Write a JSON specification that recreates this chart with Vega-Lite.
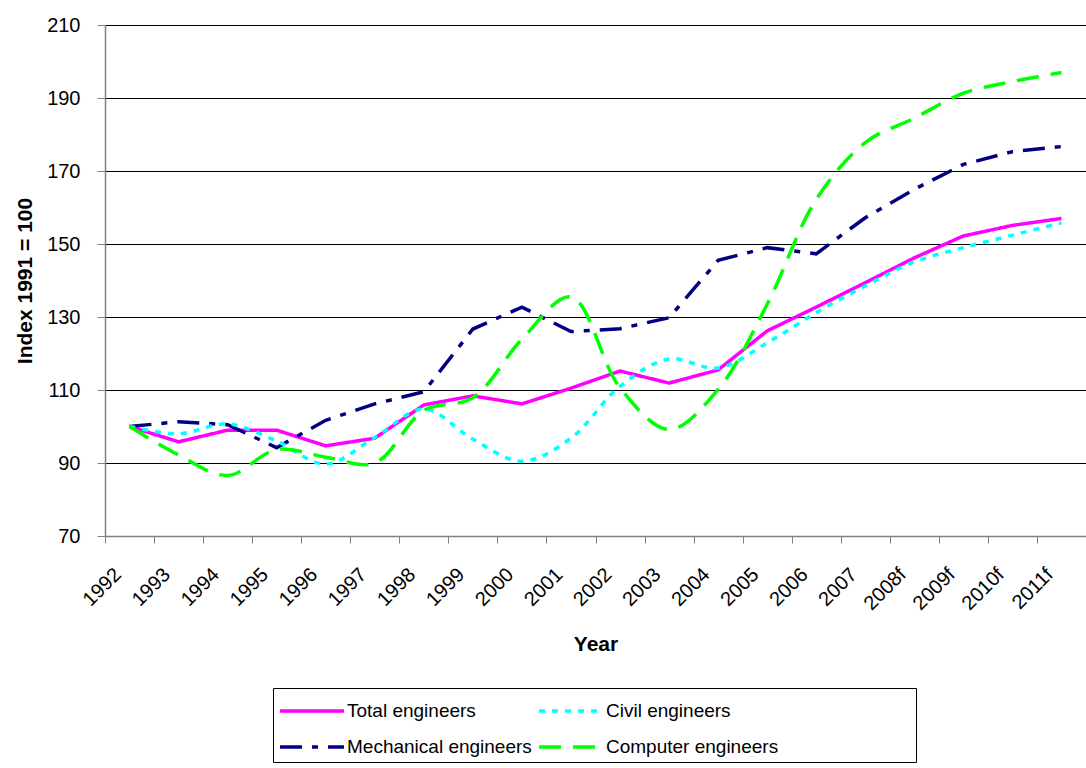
{
  "$schema": "https://vega.github.io/schema/vega-lite/v6.json",
  "width": 981,
  "height": 511,
  "autosize": {"type": "none"},
  "padding": {"left": 105, "top": 25, "right": 0, "bottom": 232},
  "background": "white",
  "config": {
    "view": {"stroke": null},
    "font": "Liberation Sans",
    "axis": {"labelFont": "Liberation Sans", "titleFont": "Liberation Sans", "labelColor": "black", "titleColor": "black"}
  },
  "data": {
    "values": [
      {"year": "1992", "series": "Total engineers", "value": 100},
      {"year": "1993", "series": "Total engineers", "value": 95.8},
      {"year": "1994", "series": "Total engineers", "value": 99.0},
      {"year": "1995", "series": "Total engineers", "value": 99.0},
      {"year": "1996", "series": "Total engineers", "value": 94.7},
      {"year": "1997", "series": "Total engineers", "value": 96.8},
      {"year": "1998", "series": "Total engineers", "value": 105.9},
      {"year": "1999", "series": "Total engineers", "value": 108.4},
      {"year": "2000", "series": "Total engineers", "value": 106.2},
      {"year": "2001", "series": "Total engineers", "value": 110.5},
      {"year": "2002", "series": "Total engineers", "value": 115.2},
      {"year": "2003", "series": "Total engineers", "value": 111.9},
      {"year": "2004", "series": "Total engineers", "value": 115.5},
      {"year": "2005", "series": "Total engineers", "value": 126.2},
      {"year": "2006", "series": "Total engineers", "value": 132.7},
      {"year": "2007", "series": "Total engineers", "value": 139.4},
      {"year": "2008f", "series": "Total engineers", "value": 146.2},
      {"year": "2009f", "series": "Total engineers", "value": 152.2},
      {"year": "2010f", "series": "Total engineers", "value": 155.1},
      {"year": "2011f", "series": "Total engineers", "value": 157.0},

      {"year": "1992", "series": "Civil engineers", "value": 100},
      {"year": "1993", "series": "Civil engineers", "value": 98.0},
      {"year": "1994", "series": "Civil engineers", "value": 100.7},
      {"year": "1995", "series": "Civil engineers", "value": 96.0},
      {"year": "1996", "series": "Civil engineers", "value": 89.7},
      {"year": "1997", "series": "Civil engineers", "value": 97.0},
      {"year": "1998", "series": "Civil engineers", "value": 104.8},
      {"year": "1999", "series": "Civil engineers", "value": 96.5},
      {"year": "2000", "series": "Civil engineers", "value": 90.5},
      {"year": "2001", "series": "Civil engineers", "value": 96.8},
      {"year": "2002", "series": "Civil engineers", "value": 111.0},
      {"year": "2003", "series": "Civil engineers", "value": 118.5},
      {"year": "2004", "series": "Civil engineers", "value": 116.0},
      {"year": "2005", "series": "Civil engineers", "value": 122.9},
      {"year": "2006", "series": "Civil engineers", "value": 131.2},
      {"year": "2007", "series": "Civil engineers", "value": 138.5},
      {"year": "2008f", "series": "Civil engineers", "value": 145.1},
      {"year": "2009f", "series": "Civil engineers", "value": 149.0},
      {"year": "2010f", "series": "Civil engineers", "value": 152.4},
      {"year": "2011f", "series": "Civil engineers", "value": 155.8},

      {"year": "1992", "series": "Mechanical engineers", "value": 100},
      {"year": "1993", "series": "Mechanical engineers", "value": 101.3},
      {"year": "1994", "series": "Mechanical engineers", "value": 100.5},
      {"year": "1995", "series": "Mechanical engineers", "value": 94.2},
      {"year": "1996", "series": "Mechanical engineers", "value": 101.7},
      {"year": "1997", "series": "Mechanical engineers", "value": 106.2},
      {"year": "1998", "series": "Mechanical engineers", "value": 109.5},
      {"year": "1999", "series": "Mechanical engineers", "value": 126.7},
      {"year": "2000", "series": "Mechanical engineers", "value": 132.7},
      {"year": "2001", "series": "Mechanical engineers", "value": 126.0},
      {"year": "2002", "series": "Mechanical engineers", "value": 126.8},
      {"year": "2003", "series": "Mechanical engineers", "value": 129.8},
      {"year": "2004", "series": "Mechanical engineers", "value": 145.5},
      {"year": "2005", "series": "Mechanical engineers", "value": 149.0},
      {"year": "2006", "series": "Mechanical engineers", "value": 147.3},
      {"year": "2007", "series": "Mechanical engineers", "value": 157.2},
      {"year": "2008f", "series": "Mechanical engineers", "value": 165.0},
      {"year": "2009f", "series": "Mechanical engineers", "value": 171.8},
      {"year": "2010f", "series": "Mechanical engineers", "value": 175.3},
      {"year": "2011f", "series": "Mechanical engineers", "value": 176.7},

      {"year": "1992", "series": "Computer engineers", "value": 100},
      {"year": "1993", "series": "Computer engineers", "value": 92.2},
      {"year": "1994", "series": "Computer engineers", "value": 86.6},
      {"year": "1995", "series": "Computer engineers", "value": 93.7},
      {"year": "1996", "series": "Computer engineers", "value": 91.6},
      {"year": "1997", "series": "Computer engineers", "value": 90.0},
      {"year": "1998", "series": "Computer engineers", "value": 104.4},
      {"year": "1999", "series": "Computer engineers", "value": 107.9},
      {"year": "2000", "series": "Computer engineers", "value": 123.9},
      {"year": "2001", "series": "Computer engineers", "value": 135.5},
      {"year": "2002", "series": "Computer engineers", "value": 110.6},
      {"year": "2003", "series": "Computer engineers", "value": 99.2},
      {"year": "2004", "series": "Computer engineers", "value": 110.2},
      {"year": "2005", "series": "Computer engineers", "value": 133.5},
      {"year": "2006", "series": "Computer engineers", "value": 162.2},
      {"year": "2007", "series": "Computer engineers", "value": 177.8},
      {"year": "2008f", "series": "Computer engineers", "value": 184.5},
      {"year": "2009f", "series": "Computer engineers", "value": 191.3},
      {"year": "2010f", "series": "Computer engineers", "value": 194.5},
      {"year": "2011f", "series": "Computer engineers", "value": 197.0}
    ]
  },
  "encoding": {
    "x": {
      "field": "year", "type": "ordinal", "sort": null,
      "scale": {"type": "band", "paddingInner": 0, "paddingOuter": 0},
      "axis": {
        "title": "Year", "titleFontSize": 21, "titleFontWeight": "bold", "titlePadding": 20,
        "labelAngle": -45, "labelFontSize": 20, "labelPadding": 21, "labelOffset": -19,
        "tickBand": "extent", "grid": false,
        "domainColor": "#808080", "tickColor": "#808080", "tickSize": 7, "domainWidth": 1.5
      }
    },
    "y": {
      "field": "value", "type": "quantitative",
      "scale": {"domain": [70, 210], "nice": false, "zero": false},
      "axis": {
        "title": "Index 1991 = 100", "titleFontSize": 21, "titleFontWeight": "bold", "titlePadding": 11,
        "values": [70, 90, 110, 130, 150, 170, 190, 210],
        "labelFontSize": 20, "labelPadding": 17,
        "grid": true, "gridColor": "black", "gridWidth": 1, "gridOpacity": 1,
        "domainColor": "#808080", "tickColor": "#808080", "tickSize": 8, "domainWidth": 1.5
      }
    },
    "color": {
      "field": "series", "type": "nominal",
      "scale": {
        "domain": ["Total engineers", "Civil engineers", "Mechanical engineers", "Computer engineers"],
        "range": ["#FF00FF", "#00FFFF", "#000080", "#00FF00"]
      },
      "legend": {
        "title": null, "orient": "none", "legendX": 168, "legendY": 663,
        "direction": "horizontal", "columns": 2, "columnPadding": 0, "rowPadding": 8,
        "padding": 5, "strokeColor": "black", "fillColor": "white",
        "symbolType": "M-1,0H3", "symbolSize": 1024, "symbolStrokeWidth": 3.5,
        "labelFontSize": 19, "labelFont": "Liberation Sans", "labelColor": "black", "labelOffset": 33,
        "labelLimit": 600,
        "labelExpr": "datum.label == 'Computer engineers' ? datum.label + '\u00a0\u00a0\u00a0\u00a0\u00a0\u00a0\u00a0\u00a0\u00a0\u00a0\u00a0\u00a0\u00a0\u00a0\u00a0\u00a0\u00a0\u00a0\u00a0\u00a0\u00a0\u00a0\u00a0\u00a0\u00a0\u200b' : datum.label"
      }
    },
    "strokeDash": {
      "field": "series", "type": "nominal",
      "scale": {
        "domain": ["Total engineers", "Civil engineers", "Mechanical engineers", "Computer engineers"],
        "range": [[1, 0], [6, 7], [22, 10, 6, 10], [22, 12]]
      },
      "legend": null
    }
  },
  "layer": [
    {
      "transform": [{"filter": "datum.series === 'Total engineers' || datum.series === 'Mechanical engineers'"}],
      "mark": {"type": "line", "strokeWidth": 3.5, "interpolate": "linear"}
    },
    {
      "transform": [{"filter": "datum.series === 'Civil engineers' || datum.series === 'Computer engineers'"}],
      "mark": {"type": "line", "strokeWidth": 3.5, "interpolate": "catmull-rom"}
    }
  ]
}
